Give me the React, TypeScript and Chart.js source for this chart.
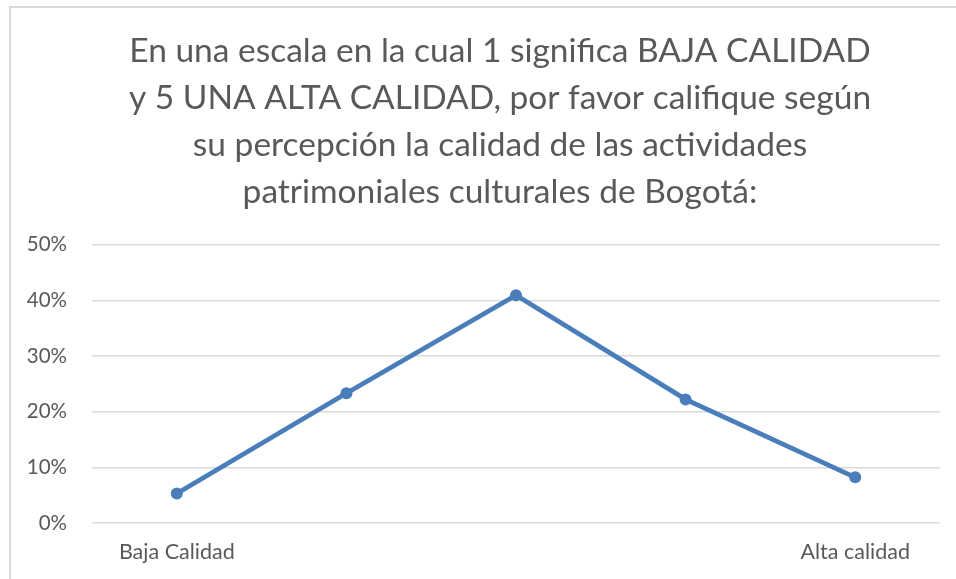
import React, { useEffect, useRef } from "react";
import { Chart, registerables } from "chart.js";

Chart.register(...registerables);

const titleLines = [
  "En una escala en la cual 1 significa BAJA CALIDAD",
  "y 5 UNA ALTA CALIDAD, por favor califique según",
  "su percepción la calidad de las actividades",
  "patrimoniales culturales de Bogotá:",
];
const categories = ["Baja Calidad", "", "", "", "Alta calidad"];
const values = [5.3, 23.3, 40.9, 22.2, 8.2];
const yMin = 0;
const yMax = 50;
const yStep = 10;

const FONT = "Lato, 'Noto Sans', sans-serif";
const TEXT = "#595959";
const GRID = "#d9d9d9";
const BLUE = "#4a7ebb";

const titleCenter = {
  id: "titleCenter",
  afterLayout(chart: any) {
    const t = chart.titleBlock;
    if (t) {
      const target = 489;
      t.left = 2 * target - t.right;
    }
  },
};

export default function App() {
  const ref = useRef<HTMLCanvasElement | null>(null);
  useEffect(() => {
    if (!ref.current) return;
    const chart = new Chart(ref.current, {
      type: "line",
      data: {
        labels: categories,
        datasets: [
          {
            data: values,
            borderColor: BLUE,
            backgroundColor: BLUE,
            borderWidth: 4.8,
            pointRadius: 6,
            pointHoverRadius: 6,
            pointBackgroundColor: BLUE,
            pointBorderWidth: 0,
            tension: 0,
          },
        ],
      },
      plugins: [titleCenter],
      options: {
        responsive: false,
        animation: false,
        layout: { padding: { left: 0, right: 16, top: 0, bottom: 0 } },
        plugins: {
          legend: { display: false },
          tooltip: { enabled: false },
          title: {
            display: true,
            text: titleLines,
            color: TEXT,
            font: { family: FONT, size: 33.5, weight: "normal", lineHeight: 1.4 },
            padding: { top: 20, bottom: 29 },
          },
        },
        scales: {
          x: {
            offset: true,
            afterFit: (s: any) => {
              s.height = 56;
            },
            grid: { display: false, drawTicks: false },
            border: { display: false },
            ticks: {
              color: TEXT,
              font: { family: FONT, size: 21.5 },
              padding: 16,
              autoSkip: false,
              maxRotation: 0,
            },
          },
          y: {
            min: yMin,
            max: yMax,
            afterFit: (s: any) => {
              s.width = 81;
            },
            grid: { color: GRID, lineWidth: 1.5, drawTicks: false },
            border: { display: false },
            ticks: {
              stepSize: yStep,
              color: TEXT,
              padding: 25,
              font: { family: FONT, size: 20.5 },
              callback: (v: any) => `${v}%`,
            },
          },
        },
      },
    });
    return () => chart.destroy();
  }, []);
  return (
    <div
      style={{
        position: "fixed",
        left: 0,
        top: 0,
        width: 956,
        height: 579,
        overflow: "hidden",
        background: "#fff",
      }}
    >
      <div
        style={{
          position: "absolute",
          left: 9,
          top: 6,
          width: 1000,
          height: 700,
          border: "2px solid #d9d9d9",
          background: "#fff",
        }}
      >
        <canvas ref={ref} width={945} height={571} style={{ display: "block" }} />
      </div>
    </div>
  );
}
